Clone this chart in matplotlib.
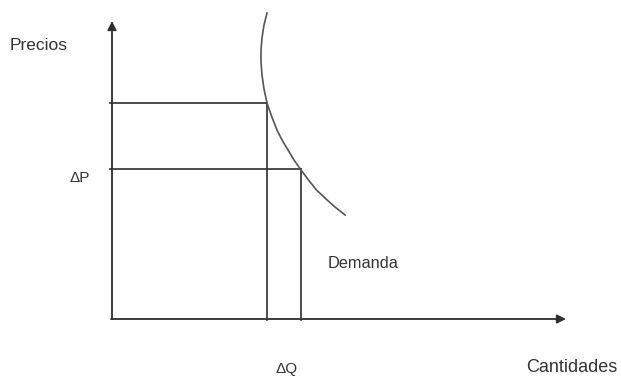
import matplotlib
matplotlib.use('Agg')
import matplotlib.pyplot as plt

plt.rcParams['font.family'] = ['Liberation Sans', 'DejaVu Sans']

# all positions in picture units (x to the right, y downwards)
origin = (112, 319)
y_axis_top = 21
x_axis_end = 566

# demand curve
curve_x = [267, 264, 262, 261, 261, 262, 264, 267, 271.5, 277, 282, 288, 294, 301, 308.5, 316.5, 326, 335, 345]
curve_y = [13, 25, 38, 50, 62, 75, 89, 103, 116, 130, 140, 150, 160, 170, 180, 190, 199, 207, 215]

# the two price / quantity pairs
price_levels = [103, 169]
quantity_levels = [267, 301]

line_col = '#2e2e2e'
text_col = '#333333'

fig = plt.figure(figsize=(6.21, 3.76), dpi=100)
ax = fig.add_axes([0, 0, 1, 1])
ax.set_xlim(0, 621)
ax.set_ylim(376, 0)
ax.axis('off')

# axes with arrow heads
ax.annotate('', xy=(origin[0], y_axis_top), xytext=origin,
            arrowprops=dict(arrowstyle='-|>', mutation_scale=13, lw=1.3,
                            color=line_col, shrinkA=0, shrinkB=0))
ax.annotate('', xy=(x_axis_end, origin[1]), xytext=(origin[0] - 1, origin[1]),
            arrowprops=dict(arrowstyle='-|>', mutation_scale=13, lw=1.3,
                            color=line_col, shrinkA=0, shrinkB=0))

# guide lines
for p, q in zip(price_levels, quantity_levels):
    ax.plot([110, q], [p, p], color=line_col, lw=1.2)
    ax.plot([q, q], [p, origin[1] + 1], color=line_col, lw=1.2)

ax.plot(curve_x, curve_y, color='#555555', lw=1.2, solid_joinstyle='round')

ax.text(10, 46, 'Precios', fontsize=12.5, color=text_col, va='center', ha='left')
ax.text(70, 178, 'ΔP', fontsize=11, color=text_col, va='center', ha='left')
ax.text(328, 263, 'Demanda', fontsize=11.8, color=text_col, va='center', ha='left')
ax.text(276, 369, 'ΔQ', fontsize=11, color=text_col, va='center', ha='left')
ax.text(526, 368, 'Cantidades', fontsize=13, color=text_col, va='center', ha='left')

fig.savefig('out.png', dpi=100)
